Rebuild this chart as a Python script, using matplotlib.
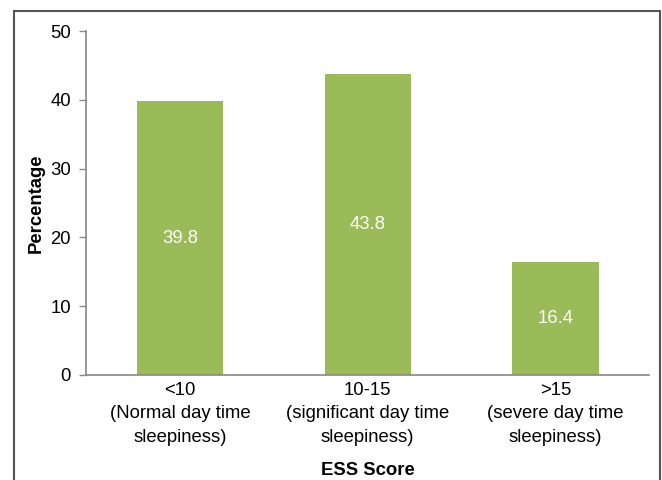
import matplotlib
matplotlib.use("Agg")
import matplotlib.pyplot as plt
from matplotlib.patches import Rectangle

plt.rcParams['font.family'] = ['Liberation Sans', 'DejaVu Sans']

# ESS score groups and share of respondents (%)
categories = ['<10\n(Normal day time\nsleepiness)',
              '10-15\n(significant day time\nsleepiness)',
              '>15\n(severe day time\nsleepiness)']
percentages = [39.8, 43.8, 16.4]
y_ticks = [0, 10, 20, 30, 40, 50]

FS = 13.3

fig = plt.figure(figsize=(6.62, 4.8), dpi=100)
ax = fig.add_axes([0.13, 0.219, 0.851, 0.716])

bars = ax.bar(range(len(categories)), percentages, width=0.46, color='#9BBB59')
ax.bar_label(bars, labels=[f'{v:.1f}' for v in percentages], label_type='center',
             color='white', fontsize=FS)

ax.set_xlim(-0.5, len(categories) - 0.5)
ax.set_ylim(0, 50)
ax.set_yticks(y_ticks)
ax.set_xticks(range(len(categories)))
ax.set_xticklabels(categories, fontsize=FS, linespacing=1.5)
ax.tick_params(axis='x', length=0, pad=5)
ax.tick_params(axis='y', length=5, width=1, color='#888888', labelsize=FS, pad=6)

for side in ['top', 'right']:
    ax.spines[side].set_visible(False)
for side in ['left', 'bottom']:
    ax.spines[side].set_color('#888888')
    ax.spines[side].set_linewidth(1.2)

ax.set_ylabel('Percentage', fontsize=FS, fontweight='bold', labelpad=4)
fig.text(0.555, 0.01, 'ESS Score', ha='center', fontsize=FS, fontweight='bold')

# outer frame (open at the bottom)
fig.patches.append(Rectangle((14 / 662, -0.05), (660 - 14) / 662, 1.05 - 11 / 480,
                             transform=fig.transFigure, fill=False,
                             edgecolor='#555555', linewidth=1.5))

fig.savefig('out.png', dpi=100)
